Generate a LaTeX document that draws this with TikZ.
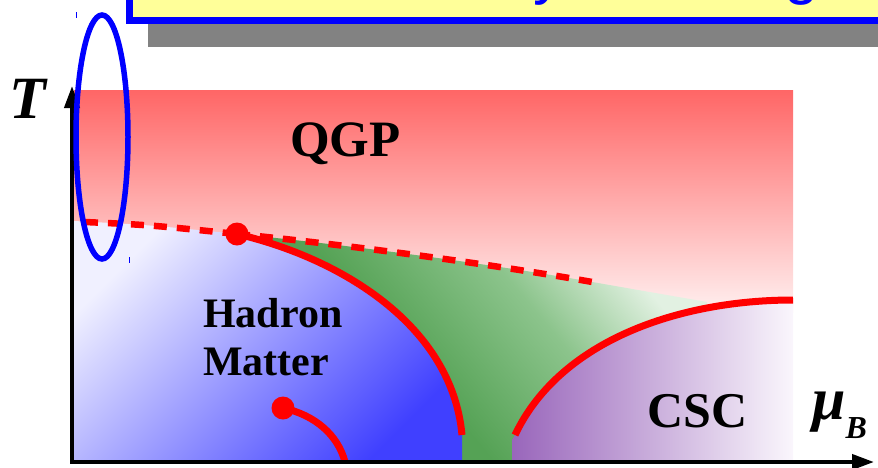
\documentclass[tikz,border=0pt]{standalone}
\usepackage{fontspec}
\setmainfont{Liberation Serif}
\setsansfont{Liberation Sans}
\usetikzlibrary{arrows.meta}
\definecolor{qgptop}{HTML}{FF6666}
\definecolor{qgpbot}{HTML}{FFF0F0}
\definecolor{hadlight}{HTML}{F0F0FF}
\definecolor{haddark}{HTML}{4040FF}
\definecolor{mixlight}{HTML}{E2F1E2}
\definecolor{mixmid}{HTML}{8CC48C}
\definecolor{mixdark}{HTML}{55A255}
\definecolor{csdark}{HTML}{9966BB}
\definecolor{cslight}{HTML}{FAF6FC}
\definecolor{banyellow}{HTML}{FFFF99}
\definecolor{shadowgrey}{HTML}{828282}
\pgfdeclarehorizontalshading{mixshade}{100bp}{color(0bp)=(mixdark); color(42bp)=(mixdark); color(60bp)=(mixmid); color(74bp)=(mixlight); color(100bp)=(mixlight)}
\begin{document}
\begin{tikzpicture}[x=1pt,y=-1pt,
  phaseline/.style={draw=red, line width=7pt},
  dashline/.style={draw=red, line width=6.5pt, dash pattern=on 13pt off 10pt},
  critdot/.style={circle, fill=red, inner sep=0pt, minimum size=23pt},
  lab/.style={inner sep=0pt, anchor=base west},
  bantext/.style={lab, text=blue, font=\sffamily\fontsize{62}{62}\selectfont},
  axisline/.style={line width=4pt, -{Triangle[length=22pt,width=15pt]}}]
\useasboundingbox (0,0) rectangle (878,467);
% coordinates
\coordinate (L0) at (74,221);
\coordinate (DS) at (85,222);
\coordinate (CP) at (237,234);
\coordinate (DE) at (598,283);
\coordinate (GE) at (707,302);
\coordinate (HB) at (462,435);
\coordinate (CA) at (515,435);
\coordinate (CE) at (793,300);
\coordinate (EP) at (283,408);
\coordinate (EB) at (345,462);
\coordinate (O) at (72,462);
\coordinate (Ox) at (70,462);
\coordinate (Ty) at (72,86);
\coordinate (Mx) at (874,462);
% banner
\fill[shadowgrey] (148,0) rectangle (900,47);
\draw[draw=blue, fill=banyellow, line width=7pt] (129.5,-20) rectangle (900,20.5);
\node[bantext] (ban1) at (533,-8) {y};
\node[bantext] (ban2) at (784,-8) {g};
% QGP background
\shade[top color=qgptop, bottom color=qgpbot] (74,90) rectangle (793,312);
% mixed (green) region
\shade[shading=mixshade, shading angle=40]
  (CP) .. controls (330,243) and (480,262) .. (DE) -- (GE) -- (707,460) -- (462,460) -- (HB)
  .. controls (452,325) and (340,258) .. (CP) -- cycle;
% hadron region
\shade[top color=hadlight, bottom color=haddark, shading angle=45]
  (L0) .. controls (150,225) .. (CP) .. controls (340,258) and (452,325) .. (HB) -- (462,460) -- (74,460) -- cycle;
% CSC region
\shade[left color=csdark, right color=cslight]
  (CA) .. controls (560,340) and (680,300) .. (CE) -- (793,460) -- (512,460) -- (512,440) -- cycle;
% phase lines
\draw[dashline] (DS) .. controls (150,225) .. (CP);
\draw[dashline] (CP) .. controls (330,243) and (480,262) .. (DE);
\draw[phaseline] (CP) .. controls (340,258) and (452,325) .. (HB);
\draw[phaseline] (CA) .. controls (560,340) and (680,300) .. (CE);
\draw[phaseline] (EP) .. controls (315,415) and (338,435) .. (EB);
\node[critdot] (cp1) at (CP) {};
\node[critdot] (cp2) at (EP) {};
% axes
\draw[axisline] (O) -- (Ty);
\draw[axisline] (Ox) -- (Mx);
% labels
\node[lab, font=\bfseries\fontsize{51}{51}\selectfont] (qgp) at (290,156) {QGP};
\node[lab, font=\bfseries\fontsize{42}{42}\selectfont] (had) at (203,327) {Hadron};
\node[lab, font=\bfseries\fontsize{42}{42}\selectfont] (mat) at (203,375) {Matter};
\node[lab, font=\bfseries\fontsize{50}{50}\selectfont] (csc) at (647,427) {CSC};
\node[lab, font=\bfseries\itshape\fontsize{60}{60}\selectfont] (tlab) at (9,118) {T};
\node[lab, font=\bfseries\itshape\fontsize{60}{60}\selectfont] (mulab) at (812,419) {μ{\fontsize{32}{32}\selectfont\raisebox{-19pt}{B}}};
% selection ellipse
\draw[blue, line width=5.5pt] (102,137) ellipse [x radius=26, y radius=122];
\draw[blue, line width=1pt] (76,12) -- (76,18);
\draw[blue, line width=1pt] (129,257) -- (129,263);
\end{tikzpicture}
\end{document}
